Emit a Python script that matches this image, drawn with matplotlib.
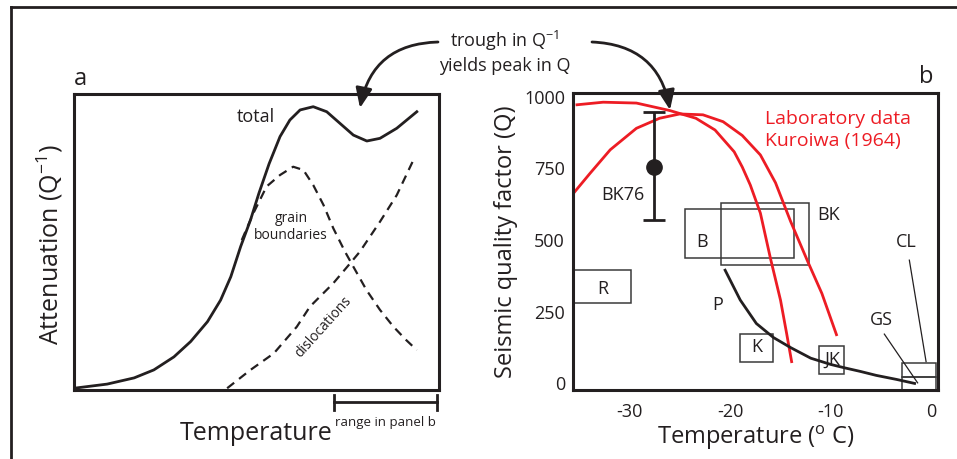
import matplotlib
matplotlib.use("Agg")
import matplotlib.pyplot as plt
from matplotlib.patches import Rectangle

plt.rcParams['font.family'] = ['Open Sans', 'DejaVu Sans']
plt.rcParams['mathtext.fontset'] = 'custom'
plt.rcParams['mathtext.rm'] = 'Open Sans'
plt.rcParams['axes.unicode_minus'] = False

INK = '#231f20'
RED = '#ed1c24'

#%% panel a: schematic attenuation curves (arbitrary units 0-100)
total_x = [0, 9.1, 16.5, 21.9, 27.4, 32.0, 36.6, 40.2, 43.0, 45.7, 48.4, 50.7, 53.5,
           56.5, 59.2, 62.0, 65.6, 69.3, 72.9, 76.6, 80.3, 83.9, 88.5, 94.0]
total_y = [0.6, 2.0, 4.1, 6.8, 11.2, 16.4, 23.1, 30.4, 38.3, 48.5, 57.5, 66.5, 76.5,
           85.7, 91.3, 94.7, 95.8, 94.1, 90.2, 86.2, 84.2, 85.1, 88.5, 94.1]

grain_x = [46.0, 49.2, 52.8, 56.5, 60.1, 62.9, 65.6, 68.4, 71.1, 74.3, 76.6, 80.2,
           83.9, 87.6, 91.0, 94.0]
grain_y = [50.7, 59.8, 68.8, 72.7, 75.5, 74.4, 69.3, 62.6, 54.7, 46.8, 41.7, 33.8,
           27.1, 21.4, 17.0, 13.5]

disl_x = [42.0, 48.4, 54.8, 57.6, 61.1, 64.7, 71.1, 75.7, 78.4, 83.9, 88.5, 93.5]
disl_y = [0.6, 6.8, 12.4, 16.4, 21.4, 28.2, 36.1, 42.8, 46.8, 56.9, 65.9, 78.9]

#%% panel b: Q vs temperature
lab1_t = [-35.2, -32.6, -29.3, -26.0, -23.4, -21.5, -19.6, -18.8, -18.0, -17.0, -16.0,
          -15.0, -14.4, -13.9]
lab1_q = [972, 981, 978, 952, 925, 884, 808, 755, 692, 594, 436, 290, 175, 76]

lab2_t = [-35.6, -33.9, -31.9, -29.3, -27.0, -25.0, -22.7, -20.7, -18.8, -17.0, -15.5,
          -14.0, -12.3, -10.9, -9.45]
lab2_q = [661, 733, 815, 890, 925, 940, 937, 913, 865, 797, 700, 565, 425, 314, 170]

p_t = [-20.5, -19.0, -17.4, -15.7, -14.0, -12.0, -10.0, -8.6, -7.1, -5.5, -3.5, -1.7]
p_q = [395, 291, 209, 160, 125, 88, 66, 54, 42, 28, 14, 0]

bk76_t = -27.6
bk76_q = 756
bk76_lo = 570
bk76_hi = 948

# name: (t0, t1, q0, q1)
boxes = {
    'R': (-35.5, -29.8, 281, 395),
    'B': (-24.5, -13.65, 436, 607),
    'BK': (-20.95, -12.2, 412, 631),
    'K': (-19.0, -15.7, 73, 173),
    'JK': (-11.2, -8.7, 33, 130),
    'CL': (-2.95, 0.45, 23, 72),
    'GS': (-2.95, 0.45, -23, 23),
}
# label positions
labels = {
    'BK76': (-30.6, 657), 'BK': (-10.25, 587), 'B': (-22.8, 494), 'R': (-32.65, 331),
    'P': (-21.2, 273), 'K': (-17.4, 128), 'JK': (-9.9, 81), 'GS': (-5.0, 221),
    'CL': (-2.55, 494),
}
leaders = {
    'CL': ((-2.22, -0.56), (430, 76)),
    'GS': ((-4.7, -1.4), (172, 2)),
}

q_ticks = [0, 250, 500, 750, 1000]
t_ticks = [-30, -20, -10, 0]

#%%
fig = plt.figure(figsize=(9.57, 4.59), dpi=100)

axa = fig.add_axes([0.0773, 0.1503, 0.3811, 0.6443])
axb = fig.add_axes([0.5991, 0.1503, 0.3808, 0.6464])

# outer frame (top and left only)
fig.add_artist(plt.Line2D([11/957, 1.0], [1 - 7/459, 1 - 7/459], color=INK, lw=2))
fig.add_artist(plt.Line2D([11/957, 11/957], [0, 1 - 7/459], color=INK, lw=2))

# ---- panel a
axa.plot(total_x, total_y, color=INK, lw=2, solid_joinstyle='round')
axa.plot(grain_x, grain_y, color=INK, lw=1.6, ls=(0, (4, 2.8)))
axa.plot(disl_x, disl_y, color=INK, lw=1.6, ls=(0, (4, 2.8)))
axa.set_xlim(0, 100)
axa.set_ylim(0, 100)
axa.set_xticks([])
axa.set_yticks([])
for s in axa.spines.values():
    s.set_linewidth(2.2)
    s.set_color(INK)

axa.text(49.9, 92.2, 'total', ha='center', va='center', fontsize=13, color=INK)
axa.text(59.5, 55.2, 'grain\nboundaries', ha='center', va='center', fontsize=10,
         color=INK, linespacing=1.15)
axa.text(68.4, 21.4, 'dislocations', ha='center', va='center', fontsize=10,
         color=INK, rotation=48)

# range bar below the axis
axa.plot([71.4, 99.6], [-4.2, -4.2], color=INK, lw=2, clip_on=False)
axa.plot([71.4, 71.4], [-6.8, -1.6], color=INK, lw=2, clip_on=False)
axa.plot([99.6, 99.6], [-6.8, -1.6], color=INK, lw=2, clip_on=False)

fig.text(0.0836, 0.828, 'a', fontsize=17, color=INK, ha='center', va='center')
fig.text(0.0522, 0.466, r'Attenuation (Q$^{\mathrm{-1}}$)', rotation=90, fontsize=18,
         color=INK, ha='center', va='center')
fig.text(0.268, 0.056, 'Temperature', fontsize=18, color=INK, ha='center', va='center')
fig.text(0.403, 0.079, 'range in panel b', fontsize=9.5, color=INK, ha='center', va='center')

# ---- panel b
axb.plot(lab1_t, lab1_q, color=RED, lw=2)
axb.plot(lab2_t, lab2_q, color=RED, lw=2)
axb.plot(p_t, p_q, color=INK, lw=2)
axb.errorbar([bk76_t], [bk76_q], yerr=[[bk76_q - bk76_lo], [bk76_hi - bk76_q]],
             fmt='o', color=INK, ms=11, elinewidth=2, capsize=8, capthick=2)

for name, (t0, t1, q0, q1) in boxes.items():
    axb.add_patch(Rectangle((t0, q0), t1 - t0, q1 - q0, fill=False,
                            edgecolor='#3a3a3a', lw=1.1))
for name, (t, q) in labels.items():
    axb.text(t, q, name, ha='center', va='center', fontsize=13, color=INK)
for name, (ts, qs) in leaders.items():
    axb.plot(ts, qs, color=INK, lw=0.9)

axb.text(-16.5, 884, 'Laboratory data\nKuroiwa (1964)', color=RED, fontsize=14,
         ha='left', va='center', linespacing=1.25)

axb.set_xlim(-35.56, 0.6)
axb.set_ylim(-23, 1012)
axb.set_xticks(t_ticks)
axb.set_yticks(q_ticks)
axb.tick_params(length=0, labelsize=13, colors=INK)
axb.tick_params(axis='y', pad=6)
axb.tick_params(axis='x', pad=9)
for s in axb.spines.values():
    s.set_linewidth(2.2)
    s.set_color(INK)
axb.set_ylabel('Seismic quality factor (Q)', fontsize=17, color=INK, labelpad=4)
axb.set_xlabel(r'Temperature ($^{\mathrm{o}}$ C)', fontsize=17, color=INK, labelpad=2)

fig.text(0.968, 0.832, 'b', fontsize=17, color=INK, ha='center', va='center')

# ---- the connecting annotation
fig.text(0.5277, 0.887, 'trough in Q$^{\\mathrm{-1}}$\nyields peak in Q', fontsize=13,
         color=INK, ha='center', va='center', linespacing=1.3)
axb.annotate('', xy=(360, 351), xycoords='figure pixels', xytext=(438, 417),
             textcoords='figure pixels',
             arrowprops=dict(arrowstyle='-|>,head_length=0.6,head_width=0.25',
                             mutation_scale=20, color=INK, lw=2,
                             connectionstyle='arc3,rad=0.4', shrinkA=0, shrinkB=0))
axb.annotate('', xy=(670, 349), xycoords='figure pixels', xytext=(592, 417),
             textcoords='figure pixels',
             arrowprops=dict(arrowstyle='-|>,head_length=0.6,head_width=0.25',
                             mutation_scale=20, color=INK, lw=2,
                             connectionstyle='arc3,rad=-0.4', shrinkA=0, shrinkB=0))

fig.savefig('out.png', dpi=100)
